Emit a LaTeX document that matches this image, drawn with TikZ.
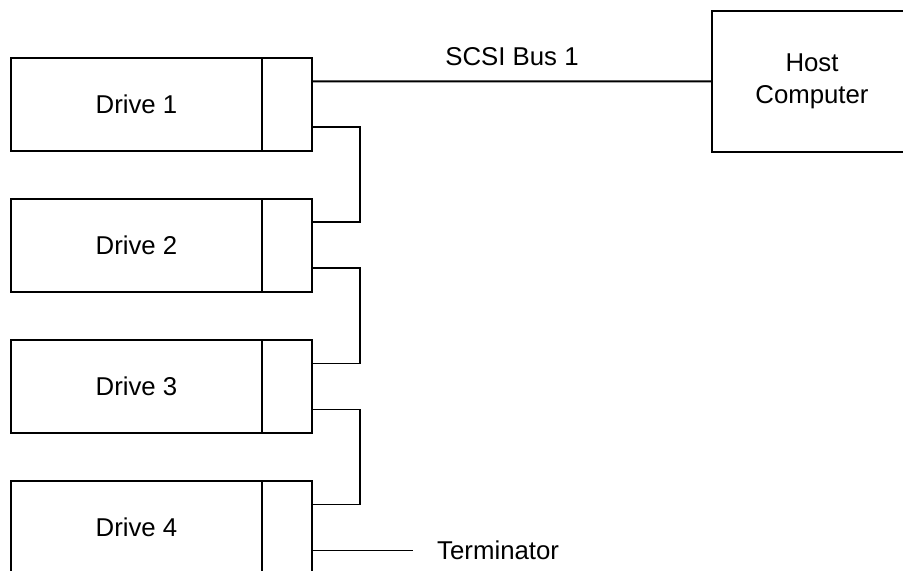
\documentclass[tikz,border=0pt]{standalone}
\usepackage{fontspec}
\setmainfont{Liberation Sans}
\usetikzlibrary{positioning,calc}
\definecolor{Ink}{HTML}{000000}
\tikzset{
  drive/.style={draw=Ink,line width=1.7pt,outer sep=0pt,minimum width=7.53cm,minimum height=2.79cm,
    inner sep=0pt,font=\fontsize{22}{27}\selectfont},
  port/.style={draw=Ink,line width=1.7pt,outer sep=0pt,minimum width=1.5cm,minimum height=2.79cm,inner sep=0pt},
  host/.style={draw=Ink,line width=1.7pt,outer sep=0pt,minimum width=6cm,minimum height=4.23cm,
    align=center,inner sep=0pt,font=\fontsize{22}{27}\selectfont},
  bus/.style={draw=Ink,line width=1.7pt},
  tag/.style={inner sep=0pt,text=Ink,font=\fontsize{22}{27}\selectfont}
}
\begin{document}
\begin{tikzpicture}
        \useasboundingbox (0,0) rectangle (27.09,-17.13);
        \clip (0,0) rectangle (27.09,-17.13);
        \node[drive] (d1) at (4.095,-3.135) {Drive 1};
        \node[port,right=0pt of d1] (p1) {};
        \node[drive,below=1.44cm of d1] (d2) {Drive 2};
        \node[port,right=0pt of d2] (p2) {};
        \node[drive,below=1.44cm of d2] (d3) {Drive 3};
        \node[port,right=0pt of d3] (p3) {};
        \node[drive,below=1.44cm of d3] (d4) {Drive 4};
        \node[port,right=0pt of d4] (p4) {};
        \node[host] (host) at (24.36,-2.445) {Host\\Computer};
        \draw[bus] ([yshift=.69cm]p1.east) -- (host.west)
          node[tag,midway,above=.45cm] (buslbl) {SCSI Bus 1};
        \draw[bus] ([yshift=-.69cm]p1.east) -- ++(1.44,0) |- ([yshift=.69cm]p2.east);
        \draw[bus] ([yshift=-.69cm]p2.east) -- ++(1.44,0) |- ([yshift=.69cm]p3.east);
        \draw[bus] ([yshift=-.69cm]p3.east) -- ++(1.44,0) |- ([yshift=.69cm]p4.east);
        \draw[bus] ([yshift=-.69cm]p4.east) -- ++(3.03,0) coordinate (term);
        \node[tag,right=.72cm of term] (termlbl) {Terminator};
      \end{tikzpicture}
\end{document}
